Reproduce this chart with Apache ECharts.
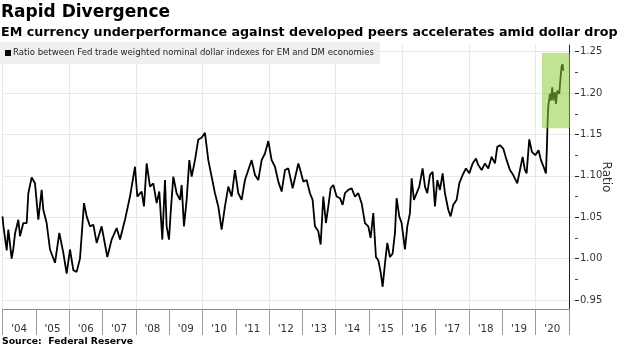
<!DOCTYPE html>
<html>
<head>
<meta charset="utf-8">
<script src="https://cdn.jsdelivr.net/npm/echarts@6/dist/echarts.min.js"></script>
<style>
html,body{margin:0;padding:0;background:#fff;}
#chart{width:620px;height:348px;}
</style>
</head>
<body>
<div id="chart"></div>
<script>
// ---- data ----
var yearLabels = ["'04","'05","'06","'07","'08","'09","'10","'11","'12","'13","'14","'15","'16","'17","'18","'19","'20"];
var yTicks = [0.95, 1.00, 1.05, 1.10, 1.15, 1.20, 1.25];
var years = [
2004.000,2004.025,2004.124,2004.173,2004.272,2004.322,2004.371,2004.470,2004.520,2004.618,
2004.718,2004.767,2004.866,2004.965,2005.064,2005.163,2005.212,2005.311,2005.410,2005.559,
2005.687,2005.806,2005.905,2006.004,2006.103,2006.202,2006.301,2006.420,2006.499,2006.598,
2006.697,2006.796,2006.944,2007.113,2007.241,2007.390,2007.489,2007.637,2007.786,2007.934,
2008.003,2008.132,2008.201,2008.281,2008.380,2008.478,2008.577,2008.656,2008.746,2008.825,
2008.874,2008.944,2008.993,2009.072,2009.171,2009.270,2009.320,2009.389,2009.468,2009.547,
2009.617,2009.716,2009.814,2009.913,2010.012,2010.111,2010.210,2010.309,2010.408,2010.507,
2010.606,2010.705,2010.804,2010.903,2011.002,2011.101,2011.200,2011.299,2011.398,2011.497,
2011.596,2011.695,2011.794,2011.893,2011.992,2012.091,2012.190,2012.289,2012.388,2012.487,
2012.616,2012.784,2012.842,2012.932,2013.031,2013.130,2013.209,2013.278,2013.377,2013.447,
2013.526,2013.605,2013.674,2013.744,2013.823,2013.922,2014.021,2014.100,2014.169,2014.268,
2014.367,2014.466,2014.565,2014.664,2014.763,2014.862,2014.931,2015.010,2015.089,2015.159,
2015.228,2015.288,2015.357,2015.426,2015.505,2015.584,2015.654,2015.703,2015.782,2015.852,
2015.951,2016.020,2016.099,2016.149,2016.218,2016.297,2016.376,2016.475,2016.545,2016.614,
2016.693,2016.772,2016.841,2016.911,2016.990,2017.069,2017.138,2017.237,2017.306,2017.386,
2017.485,2017.564,2017.663,2017.762,2017.861,2017.960,2018.059,2018.128,2018.227,2018.326,
2018.425,2018.524,2018.623,2018.692,2018.771,2018.870,2018.969,2019.068,2019.167,2019.286,
2019.365,2019.444,2019.513,2019.563,2019.642,2019.721,2019.820,2019.919,2019.988,2020.067,
2020.137,2020.166,2020.186,2020.206,2020.226,2020.255,2020.285,2020.325,2020.354,2020.404,
2020.434,2020.473,2020.532,2020.572,2020.602,2020.631,2020.651
];
var ratio = [
1.051,1.040,1.010,1.035,1.000,1.012,1.030,1.047,1.027,1.043,
1.043,1.079,1.098,1.091,1.047,1.083,1.059,1.043,1.011,0.995,
1.031,1.007,0.982,1.011,0.986,0.984,1.000,1.067,1.051,1.039,
1.041,1.019,1.039,1.002,1.023,1.037,1.023,1.047,1.075,1.111,
1.075,1.081,1.063,1.115,1.087,1.091,1.067,1.081,1.023,1.095,
1.039,1.023,1.055,1.099,1.079,1.071,1.089,1.039,1.071,1.119,
1.099,1.119,1.144,1.146,1.152,1.119,1.099,1.079,1.063,1.035,
1.063,1.087,1.075,1.107,1.079,1.071,1.095,1.107,1.119,1.101,
1.095,1.119,1.127,1.142,1.119,1.111,1.093,1.081,1.107,1.109,
1.085,1.115,1.107,1.093,1.095,1.079,1.071,1.039,1.033,1.017,
1.075,1.043,1.063,1.085,1.089,1.075,1.073,1.065,1.079,1.083,
1.085,1.075,1.079,1.067,1.043,1.039,1.025,1.055,1.002,0.998,
0.984,0.966,0.994,1.019,1.002,1.006,1.031,1.073,1.051,1.043,
1.011,1.039,1.055,1.097,1.071,1.079,1.087,1.109,1.087,1.079,
1.101,1.105,1.063,1.095,1.083,1.103,1.079,1.059,1.051,1.065,
1.071,1.091,1.101,1.109,1.103,1.115,1.121,1.113,1.107,1.115,
1.109,1.123,1.115,1.135,1.137,1.133,1.119,1.107,1.101,1.091,
1.107,1.123,1.107,1.103,1.144,1.129,1.125,1.131,1.119,1.111,
1.103,1.135,1.165,1.184,1.182,1.199,1.191,1.207,1.191,1.201,
1.187,1.203,1.199,1.219,1.232,1.235,1.227
];
var highlightX = [2020.03, 2020.83];
var highlightY = [1.158, 1.248];
var seriesName = 'Ratio between Fed trade weighted nominal dollar indexes for EM and DM economies';

var lineData = years.map(function (t, i) { return [t, ratio[i]]; });

var chart = echarts.init(document.getElementById('chart'), null, {renderer: 'canvas'});
var option = {
  animation: false,
  backgroundColor: '#ffffff',
  title: [
    {text: 'Rapid Divergence', left: 1, top: 4, padding: 0,
     textStyle: {fontFamily: 'DejaVu Sans', fontWeight: 'bold', fontSize: 17, color: '#000'}},
    {text: 'EM currency underperformance against developed peers accelerates amid dollar drop', left: 1, top: 26, padding: 0,
     textStyle: {fontFamily: 'DejaVu Sans', fontWeight: 'bold', fontSize: 12.7, color: '#000'}},
    {text: 'Source:  Federal Reserve', left: 2, top: 337, padding: 0,
     textStyle: {fontFamily: 'DejaVu Sans', fontWeight: 'bold', fontSize: 9.3, color: '#000'}}
  ],
  legend: {
    data: [seriesName],
    left: 0, top: 42,
    padding: [6, 6, 6, 5],
    backgroundColor: '#efefef',
    icon: 'rect', itemWidth: 6, itemHeight: 6,
    itemStyle: {color: '#000'},
    textStyle: {fontFamily: 'DejaVu Sans Condensed', fontSize: 9.5, color: '#222', padding: [0, 0, 0, -3]}
  },
  grid: [
    {left: 2.5, right: 45, top: 51.7, bottom: 48},
    {left: 2.5, right: 45, top: 45, bottom: 39}
  ],
  xAxis: [
    {type: 'value', gridIndex: 0, min: 2004, max: 2021, show: false},
    {type: 'category', gridIndex: 1, data: yearLabels, boundaryGap: true,
     axisLine: {show: true, lineStyle: {color: '#8a8a8a', width: 1}},
     axisTick: {show: true, interval: 0, length: 26, lineStyle: {color: '#9a9a9a'}},
     axisLabel: {interval: 0, margin: 15, fontFamily: 'DejaVu Sans', fontSize: 10.3, color: '#333'},
     splitLine: {show: true, interval: function (i) { return i % 2 === 0; }, lineStyle: {color: '#e8e8e8'}}}
  ],
  yAxis: [
    {type: 'value', gridIndex: 0, position: 'right', min: yTicks[0], max: yTicks[yTicks.length - 1], interval: 0.05,
     axisLine: {show: false},
     axisTick: {show: true, length: 4, lineStyle: {color: '#222'}},
     minorTick: {show: true, splitNumber: 2, length: 3, lineStyle: {color: '#444'}},
     axisLabel: {margin: 5, fontFamily: 'DejaVu Sans', fontSize: 10, color: '#333',
       formatter: function (v) { return v.toFixed(2); }},
     splitLine: {show: true, lineStyle: {color: '#e8e8e8'}}},
    {type: 'value', gridIndex: 1, position: 'right', min: 0, max: 1,
     axisLine: {show: true, lineStyle: {color: '#222', width: 1}},
     axisTick: {show: false}, axisLabel: {show: false}, splitLine: {show: false},
     name: 'Ratio', nameLocation: 'middle', nameRotate: -90, nameGap: 31,
     nameTextStyle: {fontFamily: 'DejaVu Sans', fontSize: 12, color: '#333'}}
  ],
  series: [
    {name: seriesName, type: 'line', xAxisIndex: 0, yAxisIndex: 0, data: lineData,
     showSymbol: false, symbol: 'none', itemStyle: {color: '#000'},
     lineStyle: {color: '#000', width: 1.8}, z: 3, silent: true},
    {name: 'highlight', type: 'line', xAxisIndex: 0, yAxisIndex: 0, data: [], z: 5, silent: true,
     markArea: {silent: true, z: 6,
       itemStyle: {color: 'rgba(140,205,60,0.55)', borderColor: '#9fcf62', borderWidth: 1, borderType: 'dotted'},
       data: [[{coord: [highlightX[0], highlightY[1]]}, {coord: [highlightX[1], highlightY[0]]}]]}}
  ]
};
chart.setOption(option);
</script>
</body>
</html>
